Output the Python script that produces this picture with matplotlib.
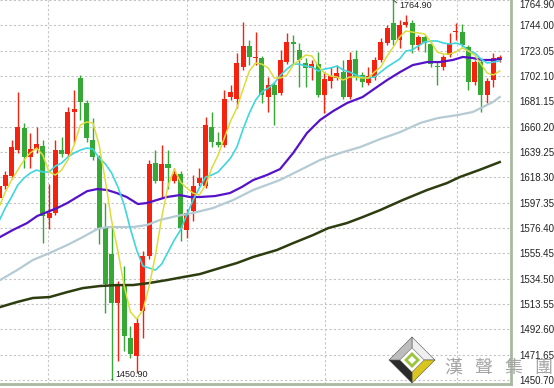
import numpy as np
import matplotlib.pyplot as plt
from matplotlib.patches import Polygon

# daily candles
opens = [1601.5, 1611.5, 1619.0, 1640.5, 1658.8, 1634.7, 1641.3, 1643.8, 1584.9, 1589.0,
         1640.5, 1637.2, 1672.0, 1700.3, 1679.5, 1648.8, 1634.7, 1576.6, 1555.0, 1514.3,
         1528.5, 1485.3, 1470.4, 1507.7, 1553.4, 1630.5, 1615.6, 1629.7, 1615.6, 1621.4,
         1574.9, 1590.7, 1614.0, 1611.5, 1659.6, 1647.1, 1644.7, 1684.5, 1682.8, 1709.4,
         1726.8, 1716.9, 1716.9, 1684.5, 1694.5, 1687.8, 1713.5, 1730.1, 1723.5, 1712.7,
         1708.6, 1711.9, 1686.2, 1697.8, 1700.3, 1705.2, 1684.5, 1716.0, 1702.8, 1696.1,
         1701.1, 1715.2, 1729.3, 1745.9, 1731.8, 1744.3, 1745.9, 1727.7, 1734.3, 1728.5,
         1710.2, 1709.4, 1719.4, 1738.4, 1738.4, 1726.0, 1696.9, 1713.5, 1686.2, 1698.6,
         1715.2]
highs = [1614.0, 1623.9, 1648.8, 1688.6, 1662.9, 1654.6, 1659.6, 1648.8, 1613.1, 1648.8,
         1651.3, 1676.2, 1690.3, 1702.8, 1682.0, 1667.0, 1636.4, 1597.3, 1578.3, 1532.6,
         1545.0, 1495.3, 1501.9, 1557.5, 1632.2, 1640.5, 1644.7, 1640.5, 1625.6, 1623.9,
         1592.4, 1619.8, 1626.4, 1667.9, 1672.0, 1655.4, 1690.3, 1694.5, 1721.0, 1746.7,
         1731.8, 1738.4, 1718.5, 1701.1, 1696.9, 1723.5, 1737.6, 1736.0, 1729.3, 1716.9,
         1715.2, 1721.8, 1705.2, 1709.4, 1711.0, 1715.2, 1721.8, 1723.5, 1705.2, 1709.4,
         1717.7, 1733.5, 1744.3, 1764.9, 1748.4, 1752.6, 1748.4, 1736.0, 1736.0, 1730.1,
         1713.5, 1719.4, 1737.6, 1745.9, 1745.1, 1727.7, 1715.2, 1715.2, 1700.3, 1721.0,
         1719.4]
lows = [1599.0, 1609.0, 1617.3, 1638.8, 1626.4, 1626.4, 1638.0, 1564.1, 1575.8, 1587.4,
        1634.7, 1635.5, 1646.3, 1665.4, 1647.1, 1632.2, 1563.3, 1506.0, 1450.9, 1466.2,
        1474.5, 1468.7, 1456.2, 1485.3, 1550.9, 1614.0, 1601.5, 1609.0, 1614.0, 1565.8,
        1568.3, 1582.4, 1611.5, 1609.8, 1643.0, 1643.0, 1643.0, 1682.0, 1675.4, 1706.9,
        1711.0, 1711.0, 1679.5, 1672.0, 1661.3, 1686.2, 1711.9, 1712.7, 1692.8, 1692.8,
        1698.6, 1684.5, 1671.2, 1692.0, 1698.6, 1682.8, 1682.8, 1698.6, 1692.8, 1694.5,
        1698.6, 1713.5, 1727.7, 1727.7, 1725.2, 1742.6, 1721.0, 1723.5, 1721.8, 1709.4,
        1694.5, 1706.9, 1717.7, 1731.8, 1726.0, 1690.3, 1694.5, 1672.0, 1679.5, 1692.8,
        1713.5]
closes = [1611.5, 1619.8, 1643.0, 1659.6, 1634.7, 1641.3, 1645.5, 1586.5, 1589.0, 1640.5,
          1637.2, 1672.0, 1674.5, 1680.3, 1650.5, 1634.7, 1576.6, 1530.1, 1514.3, 1528.5,
          1487.0, 1472.0, 1497.7, 1553.4, 1629.7, 1615.6, 1629.7, 1626.4, 1621.4, 1576.6,
          1589.0, 1611.5, 1618.1, 1661.3, 1647.1, 1644.7, 1682.8, 1688.6, 1712.7, 1726.8,
          1717.7, 1717.7, 1686.2, 1694.5, 1686.2, 1715.2, 1730.1, 1728.5, 1715.2, 1708.6,
          1711.9, 1686.2, 1699.4, 1701.9, 1704.4, 1684.5, 1715.2, 1701.1, 1696.9, 1701.9,
          1715.2, 1730.1, 1741.8, 1731.8, 1744.3, 1746.7, 1727.7, 1734.3, 1729.3, 1711.9,
          1709.4, 1717.7, 1729.3, 1739.3, 1727.7, 1696.9, 1713.5, 1686.2, 1697.8, 1716.9,
          1717.7]

# moving average lines, read at each candle
ma_yellow = [1593.7, 1606.1, 1616.0, 1624.3, 1632.6, 1638.4, 1642.5, 1636.7, 1622.7, 1620.2,
             1624.3, 1632.6, 1645.0, 1661.5, 1664.0, 1663.2, 1645.0, 1615.2, 1582.1, 1557.3,
             1528.4, 1506.9, 1501.1, 1508.5, 1528.4, 1554.0, 1585.4, 1611.1, 1625.1, 1614.4,
             1609.4, 1605.3, 1603.6, 1611.9, 1626.0, 1636.7, 1650.8, 1664.8, 1675.6, 1691.3,
             1706.2, 1712.8, 1711.9, 1708.7, 1700.4, 1700.4, 1702.9, 1711.1, 1715.3, 1719.4,
             1718.6, 1710.3, 1704.5, 1702.0, 1701.2, 1698.7, 1701.2, 1701.2, 1700.4, 1700.4,
             1705.4, 1709.5, 1718.6, 1726.0, 1734.3, 1739.3, 1738.4, 1737.6, 1736.8, 1730.2,
             1721.9, 1720.2, 1720.2, 1721.9, 1725.2, 1722.7, 1719.4, 1711.9, 1704.5, 1702.9,
             1706.2]
ma_cyan = [1582.1, 1592.9, 1602.0, 1611.9, 1617.7, 1621.8, 1624.3, 1622.7, 1622.7, 1627.6,
           1630.1, 1635.1, 1638.4, 1640.8, 1642.5, 1641.7, 1634.2, 1629.3, 1621.8, 1610.3,
           1595.4, 1575.5, 1558.1, 1544.9, 1543.3, 1541.6, 1546.6, 1556.5, 1566.4, 1574.7,
           1587.1, 1599.5, 1609.4, 1618.5, 1620.2, 1622.7, 1628.4, 1634.2, 1643.3, 1658.2,
           1671.4, 1682.2, 1688.8, 1692.1, 1696.3, 1702.9, 1707.8, 1711.9, 1711.9, 1710.3,
           1709.5, 1706.2, 1707.8, 1708.7, 1710.3, 1707.0, 1705.4, 1702.9, 1701.2, 1700.4,
           1701.2, 1705.4, 1709.5, 1712.8, 1716.1, 1722.7, 1723.6, 1726.9, 1730.2, 1731.0,
           1731.0, 1729.3, 1728.5, 1729.3, 1727.7, 1722.7, 1721.1, 1716.1, 1712.8, 1713.6,
           1714.5]

# slower averages, read at fewer points (x in candle units)
purple_x = [0.16, 2.2, 4.5, 6.1, 7.7, 9.3, 10.9, 12.5, 14.1, 15.7, 17.3, 18.8, 20.4, 22.2,
            23.6, 25.2, 26.8, 28.9, 30.5, 32.1, 34.5, 36.9, 38.8, 40.6, 42.8, 44.9, 47.0,
            49.2, 51.3, 53.4, 55.6, 58.1, 59.7, 62.0, 64.1, 66.1, 68.4, 70.4, 72.5, 74.1,
            75.7, 77.3, 78.9, 80.0]
purple = [1568.9, 1574.7, 1580.5, 1586.3, 1589.6, 1592.9, 1597.0, 1602.0, 1606.9, 1608.6,
          1607.8, 1605.3, 1602.0, 1596.2, 1597.0, 1599.5, 1602.0, 1603.6, 1602.0, 1602.0,
          1602.8, 1605.3, 1610.3, 1616.0, 1620.2, 1625.1, 1638.4, 1654.9, 1665.7, 1673.1,
          1679.7, 1684.7, 1690.5, 1698.7, 1705.4, 1711.1, 1713.6, 1713.6, 1715.3, 1717.8,
          1716.9, 1715.3, 1715.3, 1716.1]
grey_x = [0.16, 2.9, 5.4, 8.1, 10.9, 13.4, 15.7, 17.3, 19.3, 21.4, 23.6, 25.7, 28.4, 31.0,
          34.2, 37.4, 40.6, 44.9, 48.1, 51.3, 54.5, 57.7, 60.9, 64.1, 67.3, 70.1, 73.3,
          75.7, 77.3, 78.9, 80.0]
grey = [1533.3, 1541.6, 1549.9, 1555.7, 1562.3, 1568.9, 1575.5, 1577.2, 1577.2, 1577.2,
        1578.8, 1583.0, 1586.3, 1588.8, 1592.9, 1599.5, 1607.8, 1616.1, 1624.3, 1632.6,
        1638.4, 1643.3, 1649.9, 1655.7, 1663.2, 1667.3, 1669.8, 1672.3, 1676.4, 1680.5,
        1684.7]
olive_x = [0.16, 2.9, 5.4, 8.1, 10.9, 13.4, 16.1, 18.8, 21.4, 24.0, 26.8, 29.4, 32.1, 35.3,
           38.0, 40.6, 44.4, 47.0, 50.2, 52.6, 55.6, 58.1, 60.9, 64.5, 68.4, 71.6, 73.6,
           76.7, 80.0]
olive = [1511.0, 1515.2, 1518.5, 1519.3, 1523.4, 1526.7, 1528.4, 1529.2, 1529.2, 1530.9,
         1533.3, 1535.8, 1538.3, 1543.3, 1547.4, 1552.4, 1558.2, 1563.9, 1570.6, 1576.3,
         1580.5, 1585.4, 1591.2, 1599.5, 1607.8, 1613.6, 1618.5, 1624.3, 1630.9]

price_ticks = [1450.70, 1471.65, 1492.60, 1513.55, 1534.50, 1555.45, 1576.40, 1597.35,
               1618.30, 1639.25, 1660.20, 1681.15, 1702.10, 1723.05, 1744.00, 1764.90]
time_grid = [7.88, 29.98, 52.08, 73.12]

up_col = '#f5220f'
down_col = '#35a835'

fig = plt.figure(figsize=(5.54, 3.88), dpi=100)
ax = fig.add_axes([0.0, 4 / 388, 511 / 554, 384 / 388])

o = np.array(opens)
h = np.array(highs)
l = np.array(lows)
c = np.array(closes)
x = np.arange(len(o))
up = c >= o
cols = np.where(up, up_col, down_col)

ax.vlines(x, l, h, colors=cols, lw=1, zorder=2)
body_lo = np.minimum(o, c)
body_h = np.maximum(np.abs(c - o), 0.9)
ax.bar(x, body_h, bottom=body_lo, width=0.8, color=cols, linewidth=0, zorder=3)

ax.plot(olive_x, olive, color='#2e3d10', lw=1.8, zorder=4)
ax.plot(grey_x, grey, color='#b4cbd3', lw=1.6, zorder=4)
ax.plot(purple_x, purple, color='#5512c8', lw=1.6, zorder=4)
ax.plot(x, ma_cyan, color='#3fd6df', lw=1.2, zorder=5)
ax.plot(x, ma_yellow, color='#dcdc3c', lw=1.1, zorder=5)

ax.set_xlim(0.16, 81.8)
ax.set_ylim(1447.4, 1764.9)

ax.set_yticks(price_ticks)
ax.set_yticklabels(['%.2f' % v for v in price_ticks])
ax.yaxis.tick_right()
ax.tick_params(axis='y', length=0, pad=6, labelsize=7, labelcolor='#222222')
for t in ax.get_yticklabels():
    t.set_family('Liberation Sans')
# top label sits at the very edge; keep it inside the picture
ax.get_yticklabels()[-1].set_verticalalignment('top')
ax.set_xticks(time_grid)
ax.tick_params(axis='x', length=0, labelbottom=False)
ax.grid(True, color='#c4c4c4', linestyle=(0, (2, 2)), lw=0.8)
ax.set_axisbelow(True)

for s in ['top', 'left']:
    ax.spines[s].set_visible(False)
for s in ['right', 'bottom']:
    ax.spines[s].set_color('#a9b9a0')
    ax.spines[s].set_linewidth(2)

# high / low markers
hi = int(np.argmax(h))
lo = int(np.argmin(l))
ax.annotate('%.2f' % h[hi], xy=(hi, h[hi]), xytext=(4.5, -3.8), textcoords='offset points',
            fontsize=6.5, family='Liberation Sans', color='#222222', ha='left', va='center',
            arrowprops=dict(arrowstyle='-', color='#333333', lw=0.6, shrinkA=0, shrinkB=0,
                            relpos=(0, 0.5)), zorder=6)
ax.annotate('%.2f' % l[lo], xy=(lo, l[lo]), xytext=(2.5, 0.5), textcoords='offset points',
            fontsize=6.5, family='Liberation Sans', color='#222222', ha='left', va='bottom',
            arrowprops=dict(arrowstyle='-', color='#333333', lw=0.6, shrinkA=0, shrinkB=0,
                            relpos=(0, 0)), zorder=6)

# watermark logo (pixel coordinates)
ov = fig.add_axes([0, 0, 1, 1])
ov.set_xlim(0, 554)
ov.set_ylim(388, 0)
ov.axis('off')
cx, cy, r, ri = 412, 360, 23, 12
outer = [(cx, cy - r), (cx + r, cy), (cx, cy + r), (cx - r, cy)]
inner = [(cx, cy - ri), (cx + ri, cy), (cx, cy + ri), (cx - ri, cy)]
face_cols = ['#efefef', '#d9c51c', '#2a2a2a', '#bdbdbd']
for i in range(4):
    j = (i + 1) % 4
    ov.add_patch(Polygon([outer[i], outer[j], inner[j], inner[i]], closed=True,
                         facecolor=face_cols[i], edgecolor='#555555', lw=0.4))
ov.add_patch(Polygon(inner, closed=True, facecolor='white', edgecolor='#888888', lw=0.4))
rg = 8
ov.add_patch(Polygon([(cx, cy - rg), (cx + rg, cy), (cx, cy + rg), (cx - rg, cy)],
                     closed=True, facecolor='#9cc43c', edgecolor='none'))
rw = 4
ov.add_patch(Polygon([(cx, cy - rw), (cx + rw, cy), (cx, cy + rw), (cx - rw, cy)],
                     closed=True, facecolor='white', edgecolor='none'))
for i, ch in enumerate('漢聲集團'):
    ov.text(453 + i * 30, 368, ch, fontsize=13, color='#a5a5a5', ha='center', va='center',
            family='Noto Sans CJK TC')

fig.savefig('out.png', dpi=100)
